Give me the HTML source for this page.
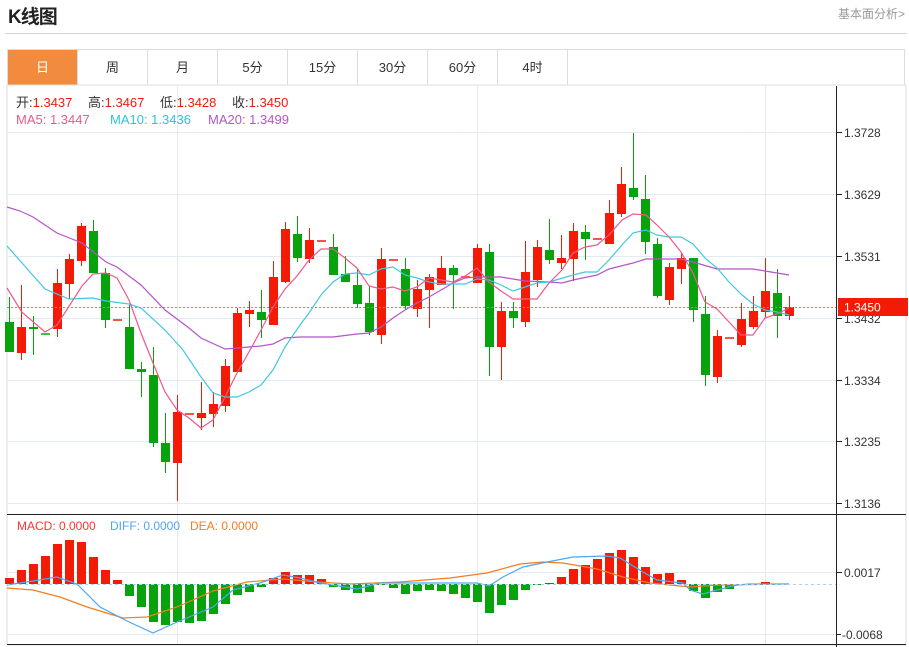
<!DOCTYPE html>
<html><head><meta charset="utf-8">
<style>
body{margin:0;background:#fff;width:909px;height:647px;overflow:hidden;font-family:"Liberation Sans","Noto Sans CJK SC",sans-serif;position:relative}
.t{position:absolute;left:8px;top:2px;font-size:19px;font-weight:bold;color:#222;letter-spacing:-1px}
.more{position:absolute;right:4px;top:5px;font-size:12px;color:#999}
.hr{position:absolute;left:5px;top:33px;width:902px;height:1px;background:#d4d4d4}
.tabs{position:absolute;left:7px;top:49px;width:898px;height:36px;border:1px solid #ddd;border-bottom:none;box-sizing:border-box}
.tab{position:absolute;top:0;height:35px;width:70px;border-right:1px solid #ddd;text-align:center;line-height:35px;font-size:13px;color:#333;box-sizing:border-box}
svg{position:absolute;left:0;top:0}
</style></head><body>
<div class="t">K线图</div>
<div class="more">基本面分析&gt;</div>
<div class="hr"></div>
<div class="tabs">
<div class="tab" style="left:0;background:#f38b3f;color:#fff">日</div>
<div class="tab" style="left:70px">周</div>
<div class="tab" style="left:140px">月</div>
<div class="tab" style="left:210px">5分</div>
<div class="tab" style="left:280px">15分</div>
<div class="tab" style="left:350px">30分</div>
<div class="tab" style="left:420px">60分</div>
<div class="tab" style="left:490px">4时</div>
</div>
<svg id="s" width="909" height="647" xmlns="http://www.w3.org/2000/svg" font-family="Liberation Sans, Noto Sans CJK SC, sans-serif">
<rect x="7" y="85" width="899" height="560" fill="none" stroke="#ddd"/>
<g stroke="#e3ebf1" stroke-width="1">
<line x1="7" x2="836" y1="132.5" y2="132.5"/><line x1="7" x2="836" y1="194.5" y2="194.5"/><line x1="7" x2="836" y1="256.5" y2="256.5"/><line x1="7" x2="836" y1="318.5" y2="318.5"/><line x1="7" x2="836" y1="380.5" y2="380.5"/><line x1="7" x2="836" y1="441.5" y2="441.5"/><line x1="7" x2="836" y1="503.5" y2="503.5"/>
<line x1="7" x2="836" y1="572.5" y2="572.5"/><line x1="7" x2="836" y1="634.5" y2="634.5"/>
<line x1="177.5" x2="177.5" y1="86" y2="644"/><line x1="477.5" x2="477.5" y1="86" y2="644"/><line x1="765.5" x2="765.5" y1="86" y2="644"/>
</g>
<g id="c"></g>
<line x1="7" x2="836" y1="584.5" y2="584.5" stroke="#a8d4f0" stroke-dasharray="3,3"/>
<line x1="7" x2="836" y1="307.5" y2="307.5" stroke="#f36a6a" stroke-dasharray="2,2"/>
<line x1="7" x2="906" y1="514.5" y2="514.5" stroke="#222"/>
<line x1="7" x2="906" y1="644.5" y2="644.5" stroke="#222"/>
<line x1="836.5" x2="836.5" y1="86" y2="647" stroke="#222"/>
<g stroke="#222"><line x1="837" x2="842" y1="132.5" y2="132.5"/><line x1="837" x2="842" y1="194.5" y2="194.5"/><line x1="837" x2="842" y1="256.5" y2="256.5"/><line x1="837" x2="842" y1="318.5" y2="318.5"/><line x1="837" x2="842" y1="380.5" y2="380.5"/><line x1="837" x2="842" y1="441.5" y2="441.5"/><line x1="837" x2="842" y1="503.5" y2="503.5"/><line x1="837" x2="842" y1="572.5" y2="572.5"/><line x1="837" x2="841" y1="634.5" y2="634.5"/></g>
<g font-size="12" fill="#333">
<text x="844" y="137">1.3728</text><text x="844" y="199">1.3629</text><text x="844" y="261">1.3531</text><text x="844" y="323">1.3432</text><text x="844" y="385">1.3334</text><text x="844" y="446">1.3235</text><text x="844" y="508">1.3136</text>
<text x="844" y="577">0.0017</text><text x="842" y="639">-0.0068</text>
</g>
<rect x="838" y="298" width="70" height="18" fill="#f31b06"/>
<text x="844" y="311.5" font-size="12" fill="#fff">1.3450</text>
<g font-size="13">
<text x="16" y="107" fill="#333">开:<tspan fill="#f31b06">1.3437</tspan></text>
<text x="88" y="107" fill="#333">高:<tspan fill="#f31b06">1.3467</tspan></text>
<text x="160" y="107" fill="#333">低:<tspan fill="#f31b06">1.3428</tspan></text>
<text x="232" y="107" fill="#333">收:<tspan fill="#f31b06">1.3450</tspan></text>
<text x="16" y="124" fill="#f0588a">MA5: 1.3447</text>
<text x="110" y="124" fill="#2ec3dc">MA10: 1.3436</text>
<text x="208" y="124" fill="#b455c8">MA20: 1.3499</text>
<text x="17" y="530" font-size="12" fill="#f33">MACD: 0.0000</text>
<text x="110" y="530" font-size="12" fill="#4ea6f0">DIFF: 0.0000</text>
<text x="190" y="530" font-size="12" fill="#f57c20">DEA: 0.0000</text>
</g>
</svg>
<script>
var R="#f31b06",G="#06a30c";
var d=[
['g',322,352,297,352],['r',327,353,285,360],['g',327,329,316,355],['g',333,334,291,335],['r',283,329,269,337],
['r',259,284,254,299],['r',226,261,223,266],['g',231,273,220,273],['g',273,320,268,328],['r',319,320,319,320],
['g',327,369,305,369],['g',369,372,362,397],['g',375,443,347,447],['g',443,462,413,473],['r',412,463,395,501],
['r',413,414,413,414],['r',413,418,382,430],['r',404,414,392,427],['r',366,406,359,412],['r',313,372,308,372],
['r',310,314,301,327],['g',312,320,290,338],['r',277,325,261,325],['r',229,282,222,283],['g',234,258,216,262],
['r',240,259,228,263],['r',240,241,240,241],['g',247,275,234,275],['g',274,282,256,282],['g',285,304,269,308],
['g',303,332,286,335],['r',259,335,248,344],['r',259,260,259,260],['g',269,306,258,310],['r',289,309,280,317],
['r',277,290,274,328],['r',268,285,256,285],['g',268,275,265,309],['r',276,277,276,277],['r',248,283,244,283],
['g',252,347,244,376],['r',311,347,302,380],['g',311,318,302,328],['r',272,322,241,327],['r',247,280,240,287],
['g',250,260,219,264],['r',258,263,235,269],['r',231,259,223,281],['g',232,239,225,260],['r',238,239,238,239],
['r',213,244,200,244],['r',184,214,167,217],['g',188,197,133,200],['g',199,242,175,254],['g',244,296,238,298],
['r',267,300,263,305],['r',258,269,253,284],['g',258,310,258,322],['g',314,375,296,386],['r',336,377,330,383],
['r',337,338,337,338],['r',319,345,303,347],['r',311,327,296,329],['r',291,312,258,317],['g',293,316,269,338],['r',307,316,296,320]];
var m=[6,14,20,28,40,44,42,27,14,4,-12,-23,-38,-41,-38,-39,-37,-30,-20,-11,-8,-3,6,12,9,9,5,-3,-6,-9,-8,-1,-4,-10,-7,-6,-7,-10,-14,-18,-29,-21,-16,-6,-1,1,7,15,19,25,31,34,27,17,10,11,4,-7,-14,-8,-5,-1,0,2,0,0];
var h="";
for(var i=0;i<d.length;i++){var x=9.5+12*i,a=d[i],c=a[0]=='r'?R:G;
if(a[2]-a[1]<=1){h+='<rect x="'+(x-4.5)+'" y="'+a[1]+'" width="9" height="2" fill="'+c+'" opacity="0.75"/>';continue;}
h+='<line x1="'+x+'" x2="'+x+'" y1="'+a[3]+'" y2="'+a[4]+'" stroke="'+c+'"/>';
h+='<rect x="'+(x-4.5)+'" y="'+a[1]+'" width="9" height="'+(a[2]-a[1])+'" fill="'+c+'"/>';}
for(i=0;i<m.length;i++){var x=9.5+12*i,v=m[i];if(v==0)continue;
h+='<rect x="'+(x-4.5)+'" y="'+(v>0?584-v:584)+'" width="9" height="'+Math.abs(v)+'" fill="'+(v>0?R:G)+'"/>';}
function pl(p,c){return '<polyline fill="none" stroke="'+c+'" stroke-width="1.2" points="'+p+'"/>';}
h+=pl("7,207 20,211 33,217 57,233 82,243 106,262 117,267 141,285 165,310 189,328 201,338 225,349 237,348 261,346 273,344 285,338 300,337 333,337 357,334 369,333 381,327 393,318 405,310 417,303 429,297 441,290 453,283 465,278 477,277 501,277 513,279 525,281 549,282 562,283 573,280 597,275 609,269 633,263 646,259 681,259 693,262 717,269 753,269 765,271 789,275","#b455c8");
h+=pl("7,246 45,289 69,299 93,298 106,301 129,304 141,308 165,330 183,350 201,377 213,393 225,397 237,397 249,392 261,385 273,370 285,347 300,325 309,313 321,295 333,282 345,274 357,273 369,275 381,269 393,267 405,275 417,278 429,282 441,284 465,284 477,279 489,280 501,285 513,291 525,287 537,283 549,282 573,275 585,272 597,272 609,260 622,245 633,233 646,230 657,235 669,237 681,237 693,244 705,258 717,268 729,282 741,294 753,304 765,310 777,312 789,315","#40c8e0");
h+=pl("7,288 21.7,312 45,332 57,325 82,286 93,274 106,273 117,278 129,300 141,333 153,363 165,392 177,410 189,418 201,428 213,420 225,397 237,373 249,352 261,330 273,307 285,289 297,276 309,260 321,249 333,249 345,258 357,268 369,286 381,289 393,287 405,291 417,287 429,278 441,280 453,282 465,276 477,268 489,282 501,291 513,299 537,299 549,283 562,270 573,253 585,247 597,245 609,235 622,220 633,214 646,215 657,225 669,237 681,252 693,273 705,302 717,309 729,322 741,335 753,335 765,318 777,314 789,308","#f0588a");
h+=pl("7,588 33,590 60,597 87,607 123,618 147,617 177,607 213,591 247,582 283,579 317,582 350,584 400,582 450,578 487,573 520,564 543,562 563,563 597,569 623,577 650,583 690,587 717,585 789,584","#f57c20");
h+=pl("7,585 33,581 57,577 77,584 100,607 127,621 153,633 177,622 213,607 233,590 260,583 283,575 300,578 320,583 357,589 380,583 450,583 477,583 489,586 503,577 523,567 547,562 573,557 607,556 620,558 643,572 657,580 683,583 690,590 703,594 717,590 737,585 750,584 789,584","#4ea6f0");
document.getElementById("c").innerHTML=h;
</script>
</body></html>
